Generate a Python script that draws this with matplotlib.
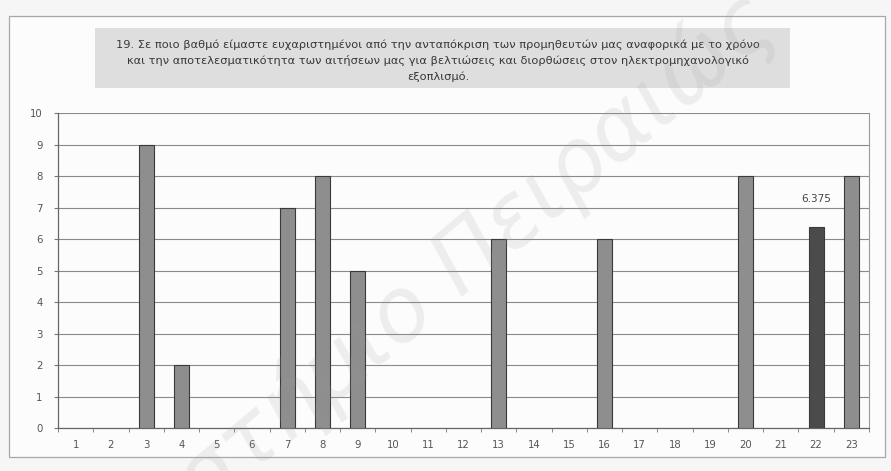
import numpy as np
import matplotlib.pyplot as plt
from matplotlib.patches import Rectangle

plt.rcParams['font.family'] = ['DejaVu Sans']

# Survey question 19: satisfaction score per respondent
categories = [str(i) for i in range(1, 24)]
scores = [0, 0, 9, 2, 0, 0, 7, 8, 5, 0, 0, 0, 6, 0, 0, 6, 0, 0, 0, 8, 0, 6.375, 8]
mean_label = "6.375"
mean_category = "22"
title_lines = [
    "19. Σε ποιο βαθμό είμαστε ευχαριστημένοι από την ανταπόκριση των προμηθευτών μας αναφορικά με το χρόνο",
    "και την αποτελεσματικότητα των αιτήσεων μας για βελτιώσεις και διορθώσεις στον ηλεκτρομηχανολογικό",
    "εξοπλισμό.",
]

fig = plt.figure(figsize=(8.91, 4.71), dpi=100, facecolor='#f6f6f6')

# page frame and shaded title box, kept behind the axes
fig.patches.append(Rectangle((0.010, 0.030), 0.983, 0.935, transform=fig.transFigure,
                             facecolor='#fcfcfc', edgecolor='#a8a8a8', linewidth=0.9, zorder=-2))
fig.patches.append(Rectangle((0.107, 0.813), 0.780, 0.128, transform=fig.transFigure,
                             facecolor='#dedede', edgecolor='none', zorder=-1))
for i, line in enumerate(title_lines):
    fig.text(0.492, 0.905 - i * 0.034, line, ha='center', va='center',
             fontsize=8.2, color='#383838')

ax = fig.add_axes([0.0651, 0.0913, 0.9102, 0.6687])
ax.set_facecolor('none')

x = np.arange(1, len(categories) + 1)
vals = np.array(scores)
colors = ['#4b4b4b' if c == mean_category else '#8e8e8e' for c in categories]
mask = vals > 0
ax.bar(x[mask], vals[mask], width=0.42, color=np.array(colors)[mask],
       edgecolor='#3a3a3a', linewidth=0.8, zorder=3)

idx = categories.index(mean_category)
ax.text(x[idx], scores[idx] + 0.75, mean_label, ha='center', va='bottom',
        fontsize=7.5, color='#444444')

ax.set_xlim(0.5, len(categories) + 0.5)
ax.set_ylim(0, 10)
ax.set_yticks(range(0, 11))
ax.set_xticks(x)
ax.set_xticklabels(categories)
ax.set_xticks(np.arange(0.5, len(categories) + 1), minor=True)
ax.yaxis.grid(True, color='#8a8a8a', linewidth=0.8, zorder=1)
ax.tick_params(axis='x', which='major', length=0, pad=9, labelsize=7.3, labelcolor='#555555')
ax.tick_params(axis='x', which='minor', length=3, color='#777777', direction='out')
ax.tick_params(axis='y', length=3, color='#777777', labelsize=7.3, labelcolor='#555555', pad=8)

for side in ['left', 'bottom']:
    ax.spines[side].set_color('#666666')
    ax.spines[side].set_linewidth(0.9)
ax.spines['right'].set_color('#9a9a9a')
ax.spines['right'].set_linewidth(0.8)
ax.spines['top'].set_visible(False)

# faint diagonal library watermark over the page
fig.text(0.875, 0.935, "Πανεπιστήμιο Πειραιώς", ha='right', va='baseline',
         rotation=40, rotation_mode='anchor', fontsize=64, style='italic',
         color='#9a9a9a', alpha=0.15, zorder=10)

fig.savefig('out.png', dpi=100, facecolor=fig.get_facecolor())
